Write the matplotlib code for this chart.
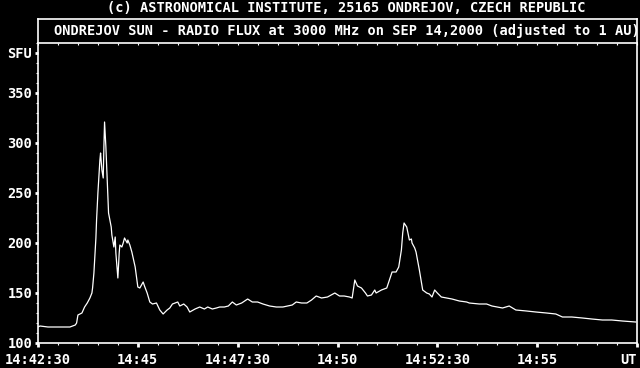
import matplotlib
matplotlib.use("Agg")
import matplotlib.pyplot as plt
from matplotlib.ticker import MultipleLocator, FixedLocator

# seconds after 14:42:30 UT
t_sec = [0, 3, 15, 22, 30, 39, 48, 52, 56, 58, 60, 66, 70, 74, 78, 81, 82, 84,
         87, 88, 90, 93, 94, 96, 98, 99, 100, 102, 104, 106, 110, 111, 114, 116,
         117, 120, 122, 123, 126, 128, 130, 134, 135, 138, 141, 146, 150, 153,
         158, 160, 164, 168, 172, 178, 183, 188, 194, 198, 202, 210, 213, 219,
         224, 228, 236, 243, 250, 255, 262, 268, 273, 280, 286, 292, 298, 306,
         315, 322, 330, 338, 348, 358, 368, 375, 382, 388, 396, 404, 411, 418,
         426, 435, 446, 453, 460, 468, 472, 476, 480, 486, 492, 495, 501, 506,
         508, 516, 524, 528, 532, 538, 542, 546, 548, 550, 554, 558, 561, 562,
         566, 568, 573, 578, 584, 588, 592, 596, 600, 606, 614, 622, 633, 644,
         648, 663, 674, 682, 698, 708, 718, 734, 748, 764, 778, 788, 802, 818,
         832, 848, 862, 878, 898]
flux = [116, 117, 116, 116, 116, 116, 116, 117, 118, 120, 128, 130, 136, 140,
        145, 150, 155, 170, 205, 223, 250, 283, 290, 273, 265, 296, 321, 296,
        263, 230, 216, 208, 196, 206, 190, 165, 190, 198, 196, 200, 205, 200,
        203, 198, 191, 176, 156, 155, 161, 157, 150, 141, 139, 140, 133, 129,
        133, 135, 139, 141, 137, 139, 136, 131, 134, 136, 134, 136, 134, 135,
        136, 136, 137, 141, 138, 140, 144, 141, 141, 139, 137, 136, 136, 137,
        138, 141, 140, 140, 143, 147, 145, 146, 150, 147, 147, 146, 145, 163,
        157, 155, 150, 147, 148, 153, 150, 153, 155, 163, 171, 171, 176, 193,
        210, 220, 216, 203, 204, 200, 195, 191, 173, 153, 150, 149, 146, 153,
        150, 146, 145, 144, 142, 141, 140, 139, 139, 137, 135, 137, 133, 132,
        131, 130, 129, 126, 126, 125, 124, 123, 123, 122, 121]

x_major = [0, 150, 300, 450, 600, 750, 900]
x_labels = ["14:42:30", "14:45", "14:47:30", "14:50", "14:52:30", "14:55", "UT"]
y_major = [100, 150, 200, 250, 300, 350, 390]
y_labels = ["100", "150", "200", "250", "300", "350", "SFU"]

FONT = "DejaVu Sans Mono"
FS = 9.8

fig = plt.figure(figsize=(6.4, 3.68), dpi=100, facecolor="black")
W, H = 640.0, 368.0
left, right = 38 / W, 637 / W
ax = fig.add_axes([left, 25 / H, right - left, 300 / H], facecolor="black")
hdr = fig.add_axes([left, 325 / H, right - left, 24 / H], facecolor="black")

ax.plot(t_sec, flux, color="white", lw=0.9)
ax.set_xlim(0, 900)
ax.set_ylim(100, 400)

for s in ax.spines.values():
    s.set_color("white")
    s.set_linewidth(1.2)
ax.spines["top"].set_visible(False)

ax.xaxis.set_major_locator(FixedLocator(x_major))
ax.set_xticklabels(x_labels)
ax.xaxis.set_minor_locator(MultipleLocator(30))
ax.yaxis.set_major_locator(FixedLocator(y_major))
ax.set_yticklabels(y_labels)
ax.yaxis.set_minor_locator(MultipleLocator(10))

ax.tick_params(axis="x", which="major", direction="out", length=3, width=2,
               color="white", labelcolor="white", pad=4.5)
ax.tick_params(axis="x", which="minor", direction="out", length=1.5, width=0.8,
               color="white")
ax.tick_params(axis="y", which="major", direction="out", length=2.2, width=2,
               color="white", labelcolor="white", pad=2)
ax.tick_params(axis="y", which="minor", direction="out", length=1.2, width=0.8,
               color="white")
for lab in ax.get_xticklabels() + ax.get_yticklabels():
    lab.set_fontfamily(FONT)
    lab.set_fontweight("bold")
    lab.set_fontsize(FS)
ax.get_xticklabels()[-1].set_horizontalalignment("right")

# header box with the subtitle; its bottom ticks point into the data area
hdr.set_xlim(0, 900)
for s in hdr.spines.values():
    s.set_color("white")
    s.set_linewidth(1.2)
hdr.set_yticks([])
hdr.xaxis.set_major_locator(MultipleLocator(30))
hdr.tick_params(axis="x", direction="out", length=1.5, width=0.8,
                color="white", labelbottom=False)
hdr.text(0.515, 0.5,
         "ONDREJOV SUN - RADIO FLUX at 3000 MHz on SEP 14,2000 (adjusted to 1 AU)",
         transform=hdr.transAxes, ha="center", va="center", color="white",
         fontfamily=FONT, fontweight="bold", fontsize=FS)

fig.text(346 / W, 1 - 8.5 / H,
         "(c) ASTRONOMICAL INSTITUTE, 25165 ONDREJOV, CZECH REPUBLIC",
         ha="center", va="center", color="white",
         fontfamily=FONT, fontweight="bold", fontsize=FS)

fig.savefig("out.png", dpi=100, facecolor="black")
